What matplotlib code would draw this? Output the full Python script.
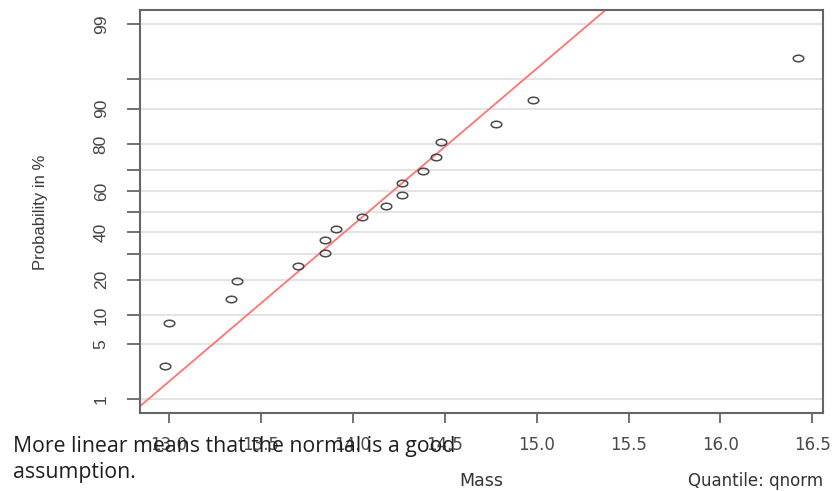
import numpy as np
import matplotlib
matplotlib.use("Agg")
import matplotlib.pyplot as plt
from matplotlib.path import Path
from matplotlib.markers import MarkerStyle
from matplotlib.transforms import Affine2D
from statistics import NormalDist

# Sample masses (sorted)
mass = [12.98, 13.00, 13.34, 13.37, 13.70, 13.85, 13.85, 13.91, 14.05,
        14.18, 14.27, 14.27, 14.38, 14.45, 14.48, 14.78, 14.98, 16.42]

prob_ticks = [1, 5, 10, 20, 30, 40, 50, 60, 70, 80, 90, 95, 99]
prob_labels = ["1", "5", "10", "20", "", "40", "", "60", "", "80", "90", "", "99"]
mass_ticks = [13.0, 13.5, 14.0, 14.5, 15.0, 15.5, 16.0, 16.5]
mass_labels = ["13.0", "13.5", "14.0", "14.5", "15.0", "15.5", "16.0", "16.5"]

_nd = NormalDist()
_ppf = np.vectorize(_nd.inv_cdf, otypes=[float])
_cdf = np.vectorize(_nd.cdf, otypes=[float])


def probit(p):
    q = np.clip(np.asarray(p, dtype=float) / 100.0, 1e-12, 1 - 1e-12)
    return _ppf(q)


def inv_probit(z):
    return _cdf(np.asarray(z, dtype=float)) * 100.0


x = np.sort(np.asarray(mass, dtype=float))
n = len(x)
pp = (np.arange(1, n + 1) - 0.5) / n * 100.0   # plotting positions in %

# reference line through the quartiles
q1, q3 = np.quantile(x, [0.25, 0.75])
z1, z3 = _nd.inv_cdf(0.25), _nd.inv_cdf(0.75)
sigma = (q3 - q1) / (z3 - z1)
mu = q1 - z1 * sigma

fig = plt.figure(figsize=(8.4, 4.91), dpi=100)
ax = fig.add_axes([140 / 840, 1 - 413.3 / 491, (823 - 140) / 840, (413.3 - 10) / 491])
ax.set_yscale("function", functions=(probit, inv_probit))

rng = x.max() - x.min()
xlim = (x.min() - 0.04 * rng, x.max() + 0.04 * rng)
ax.set_xlim(*xlim)
ax.set_ylim(inv_probit(-2.5), inv_probit(2.504))

# horizontal grid at the probability ticks
for p in prob_ticks:
    ax.axhline(p, color="#e4e4e4", lw=1.5, zorder=0)

xl = np.array(xlim)
ax.plot(xl, inv_probit((xl - mu) / sigma), color="#ff7373", lw=1.3, zorder=2)

ellipse = Path.unit_circle().transformed(Affine2D().scale(1.0, 0.62))
ax.plot(x, pp, linestyle="none", marker=MarkerStyle(ellipse), ms=7.6,
        mfc="none", mec="#4a4a4a", mew=1.1, zorder=3)

ax.set_yticks(prob_ticks)
ax.set_yticklabels(prob_labels)
ax.minorticks_off()
ax.set_xticks(mass_ticks)
ax.set_xticklabels(mass_labels)

for s in ax.spines.values():
    s.set_color("#666666")
    s.set_linewidth(1.5)

ax.tick_params(axis="y", length=9.5, width=1.3, color="#666666", pad=13,
               labelsize=12.5, labelcolor="#444444", labelrotation=90)
ax.tick_params(axis="x", length=7.5, width=1.3, color="#666666", pad=9,
               labelsize=12, labelcolor="#4a4a4a")
for lab in ax.get_yticklabels():
    lab.set_fontfamily(["Liberation Sans", "DejaVu Sans"])
    lab.set_verticalalignment("center")
for lab in ax.get_xticklabels():
    lab.set_fontfamily("DejaVu Sans")

fig.text(40 / 840, 1 - 212 / 491, "Probability in %", rotation=90,
         ha="center", va="center", fontsize=12, color="#3a3a3a",
         family=["Liberation Sans", "DejaVu Sans"])
fig.text(481.5 / 840, 1 - 481 / 491, "Mass", ha="center", va="center",
         fontsize=12.5, color="#333333", family="DejaVu Sans")
fig.text(823 / 840, 1 - 481 / 491, "Quantile: qnorm", ha="right", va="center",
         fontsize=12, color="#333333", family="DejaVu Sans")

# caption across the lower-left corner
fig.text(13 / 840, 1 - 451.7 / 491, "More linear means that the normal is a good",
         ha="left", va="baseline", fontsize=15.3, color="#1e1e1e",
         family=["Open Sans", "DejaVu Sans"])
fig.text(13 / 840, 1 - 478 / 491, "assumption.",
         ha="left", va="baseline", fontsize=15.3, color="#1e1e1e",
         family=["Open Sans", "DejaVu Sans"])

fig.savefig("out.png", dpi=100)
